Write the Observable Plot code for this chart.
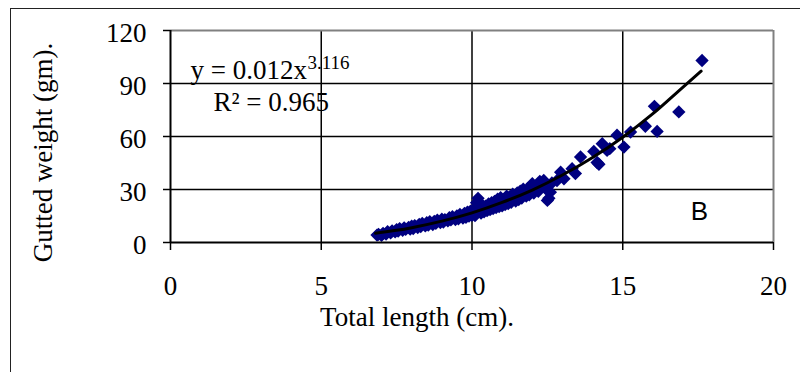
<!DOCTYPE html>
<html>
<head>
<meta charset="utf-8">
<script src="https://cdn.jsdelivr.net/npm/d3@7"></script>
<script src="https://cdn.jsdelivr.net/npm/@observablehq/plot@0.6"></script>
<style>
  html, body { margin: 0; padding: 0; background: #fff; }
  #wrap { position: relative; width: 800px; height: 372px; overflow: hidden; }
  #frame { position: absolute; left: 10px; top: 8px; width: 820px; height: 400px;
           border-left: 1.5px solid #222; border-top: 1.5px solid #222; pointer-events: none; }
</style>
</head>
<body>
<div id="wrap"><div id="frame"></div></div>
<script>
// Total length (cm)
const lengths = [6.85,6.9,7.0,7.05,7.15,7.2,7.3,7.35,7.45,7.5,7.55,7.6,7.7,7.75,7.8,7.9,7.95,8.0,8.05,8.1,
  8.2,8.25,8.3,8.35,8.45,8.5,8.55,8.6,8.7,8.75,8.8,8.85,8.95,9.0,9.05,9.1,9.2,9.25,9.3,9.35,
  9.45,9.5,9.55,9.6,9.7,9.75,9.8,9.85,9.9,9.95,10.0,10.05,10.1,10.15,10.2,10.25,10.3,10.35,10.4,10.45,
  10.5,10.55,10.6,10.65,10.7,10.75,10.8,10.85,10.9,10.95,11.0,11.05,11.1,11.15,11.2,11.25,11.3,11.35,11.4,11.45,
  11.5,11.55,11.6,11.65,11.7,11.8,11.85,11.9,12.0,12.05,12.1,12.2,12.25,12.3,12.38,12.45,12.5,12.55,12.6,12.65,
  12.82,12.94,13.05,13.32,13.43,13.6,14.04,14.15,14.21,14.32,14.48,14.57,14.81,15.04,15.26,15.75,16.05,16.14,16.86,17.63];
// Gutted weight (gm)
const weights = [4.2,4.6,4.0,5.2,4.8,6.1,5.4,6.6,6.0,7.3,6.4,7.9,6.9,8.3,7.4,8.6,7.6,9.2,7.9,9.6,
  8.5,10.3,9.0,10.8,9.4,11.2,9.8,11.8,10.2,12.0,10.9,12.6,11.3,13.2,11.6,12.9,12.2,14.0,12.8,14.6,
  13.0,15.1,13.4,15.9,13.8,16.4,14.3,17.2,14.9,17.8,15.4,18.5,15.2,22.5,25.0,19.3,16.6,21.0,17.4,20.6,
  18.0,21.8,18.6,22.5,19.2,23.3,19.8,24.5,20.3,25.4,20.8,24.3,21.5,26.2,22.0,25.8,22.8,27.4,25.0,23.5,
  28.0,24.3,29.0,25.2,30.2,26.2,30.6,27.0,33.3,28.0,31.5,29.0,34.6,31.2,35.1,30.4,23.8,25.0,28.5,33.7,
  35.1,39.8,36.1,41.8,39.0,48.4,51.5,45.3,44.3,55.9,52.1,53.1,60.7,54.0,62.5,65.8,77.1,62.9,73.9,103.0];
// Power trend line
const trendX = [6.8,7.5,8,9,10,11,12,13,14,15,16,17,17.6];
const trendY = [5.2,6.9,8.4,12.1,16.8,22.7,29.7,38.2,48.1,59.6,72.9,88.0,97.0];
const xTicks = [0,5,10,15,20];
const yTicks = [0,30,60,90,120];
const xGrid = [5,10,15];
const yGrid = [30,60,90];
const xLabel = "Total length (cm).";
const yLabel = "Gutted weight (gm).";
const eqMain = "y = 0.012x";
const eqExp = "3.116";
const r2Text = "R² = 0.965";
const panel = "B";

const points = lengths.map((x, i) => ({x, y: weights[i]}));
const trend = trendX.map((x, i) => ({x, y: trendY[i]}));

const chart = Plot.plot({
  width: 800,
  height: 372,
  marginLeft: 170,
  marginRight: 27,
  marginTop: 30,
  marginBottom: 130,
  style: {fontFamily: "Liberation Serif", fontSize: "27px", color: "#000", background: "transparent", overflow: "visible"},
  x: {domain: [0, 20], label: null},
  y: {domain: [0, 120], label: null},
  marks: [
    Plot.ruleY(yGrid, {stroke: "#000", strokeWidth: 1.5}),
    Plot.ruleX(xGrid, {stroke: "#000", strokeWidth: 1.5}),
    Plot.ruleY([120], {stroke: "#808080", strokeWidth: 2}),
    Plot.ruleX([20], {stroke: "#808080", strokeWidth: 2}),
    Plot.dot(points, {x: "x", y: "y", symbol: "diamond2", r: 6, fill: "#000080", stroke: "none"}),
    Plot.line(trend, {x: "x", y: "y", stroke: "#000", strokeWidth: 3, curve: "monotone-x"}),
    Plot.ruleX([0], {stroke: "#000", strokeWidth: 2}),
    Plot.ruleY([0], {stroke: "#000", strokeWidth: 2}),
    Plot.axisX(xTicks, {tickSize: 8, tickPadding: 25, strokeWidth: 1.5, label: null}),
    Plot.axisY(yTicks, {tickSize: 7, strokeWidth: 1.5, tickFormat: () => "", label: null}),
    Plot.axisY(yTicks, {tickSize: 0, tickPadding: 24, dy: 3, label: null}),
    Plot.text([xLabel], {text: d => d, frameAnchor: "bottom", textAnchor: "middle", dx: -55, dy: 83}),
    Plot.text([yLabel], {text: d => d, frameAnchor: "left", textAnchor: "middle", rotate: -90, dx: -127, dy: 16}),
    Plot.text([eqMain], {text: d => d, frameAnchor: "top-left", textAnchor: "start", dx: 20, dy: 29.5}),
    Plot.text([eqExp], {text: d => d, frameAnchor: "top-left", textAnchor: "start", fontSize: 19, dx: 137, dy: 24.5}),
    Plot.text([r2Text], {text: d => d, frameAnchor: "top-left", textAnchor: "start", dx: 43, dy: 61.5}),
    Plot.text([panel], {text: d => d, frameAnchor: "bottom-right", textAnchor: "middle", fontFamily: "Liberation Sans", fontSize: 26, dx: -74, dy: -23})
  ]
});
document.getElementById("wrap").prepend(chart);
</script>
</body>
</html>
